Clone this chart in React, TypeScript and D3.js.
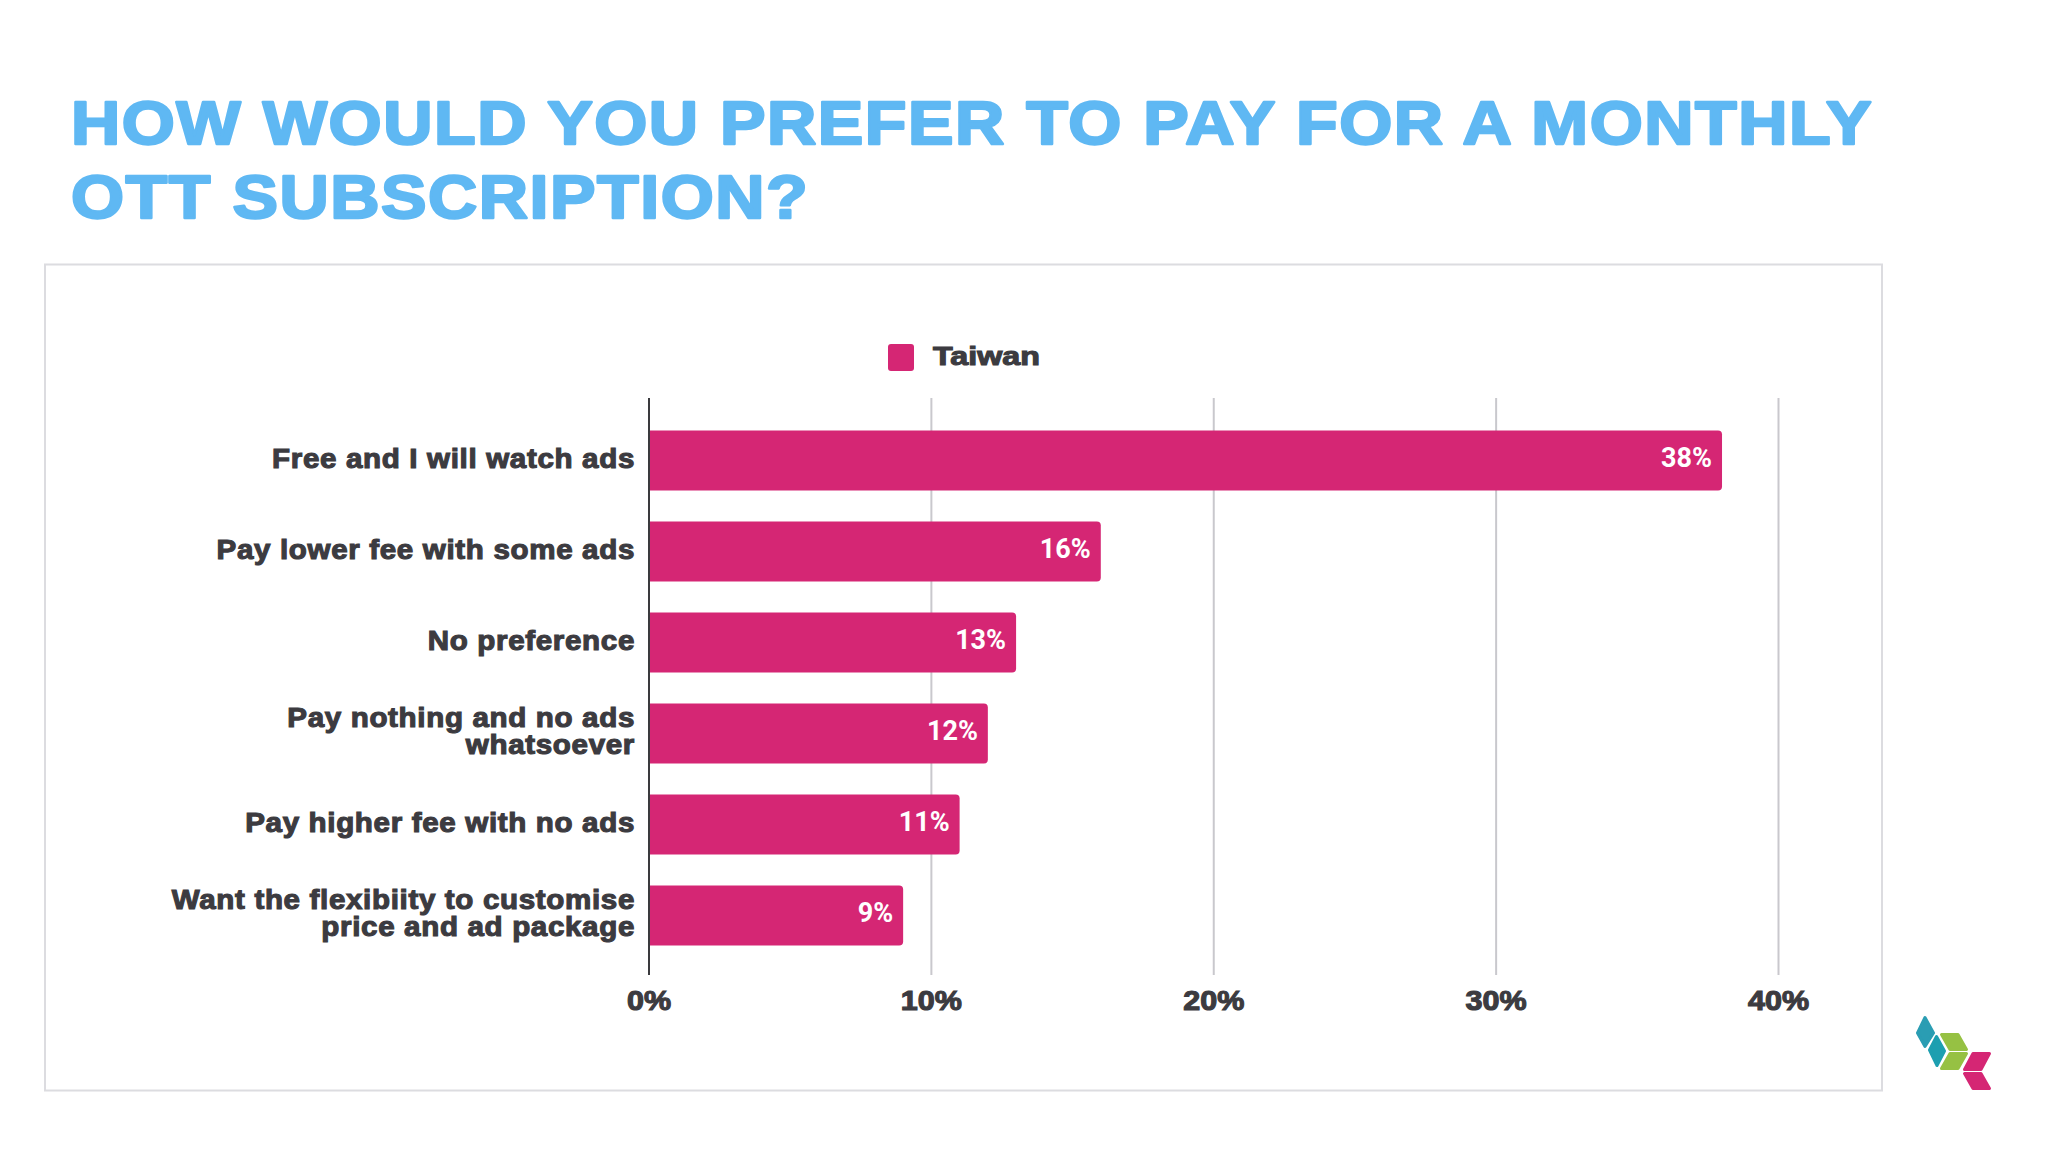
import React from "react";
import * as d3 from "d3";

const categories: string[][] = [
  ["Free and I will watch ads"],
  ["Pay lower fee with some ads"],
  ["No preference"],
  ["Pay nothing and no ads", "whatsoever"],
  ["Pay higher fee with no ads"],
  ["Want the flexibiity to customise", "price and ad package"],
];
const taiwan = [38, 16, 13, 12, 11, 9];
const ticks = [0, 10, 20, 30, 40];
const titleLines = ["HOW WOULD YOU PREFER TO PAY FOR A MONTHLY", "OTT SUBSCRIPTION?"];
const seriesName = "Taiwan";

const FONT = "'Liberation Sans', Arial, sans-serif";
const PINK = "#d52674";
const DARK = "#3c3b40";

const x = d3.scaleLinear().domain([0, 40]).range([649, 1778.5]);
const y = d3.scaleBand<number>().domain(d3.range(6)).range([415, 961]).paddingInner(0.34).paddingOuter(0.17);
const barPath = (v: number, i: number) => {
  const x0 = x(0), x1 = x(v), y0 = y(i)!, h = y.bandwidth(), r = 4;
  const p = d3.path();
  p.moveTo(x0, y0);
  p.lineTo(x1 - r, y0);
  p.arcTo(x1, y0, x1, y0 + r, r);
  p.lineTo(x1, y0 + h - r);
  p.arcTo(x1, y0 + h, x1 - r, y0 + h, r);
  p.lineTo(x0, y0 + h);
  p.closePath();
  return p.toString();
};

export default function App() {
  return (
    <svg width={2048} height={1152} style={{ position: "absolute", left: 0, top: 0, background: "#fff" }}>
      <rect x={45} y={264.5} width={1837} height={826} fill="#fff" stroke="#dcdce0" strokeWidth={2} />
      {titleLines.map((t, i) => (
        <text key={t} transform={`translate(71,${144 + i * 74}) scale(1.1,1)`} fontFamily={FONT} fontWeight={700} fontSize={62} letterSpacing={1.4} fill="#5fb8f3" stroke="#5fb8f3" strokeWidth={2.4} strokeLinejoin="round">{t}</text>
      ))}
      <rect x={888} y={344} width={26} height={27} rx={3} fill={PINK} />
      <text transform="translate(933,365) scale(1.24,1)" fontFamily={FONT} fontWeight={700} fontSize={26} fill={DARK} stroke={DARK} strokeWidth={1.1}>{seriesName}</text>
      {ticks.slice(1).map(t => (
        <line key={t} x1={x(t)} x2={x(t)} y1={398} y2={975} stroke="#c9c8cd" strokeWidth={2} />
      ))}
      {taiwan.map((v, i) => (
        <g key={i}>
          <path d={barPath(v, i)} fill={PINK} />
          <text x={x(v) - 10} y={y(i)! + 37} textAnchor="end" fontFamily="Roboto, sans-serif" fontWeight={700} fontSize={27} fill="#fff">{v}%</text>
          {categories[i].map((l, j) => {
            const n = categories[i].length;
            const base = y(i)! + y.bandwidth() / 2 + 6.5 - (n - 1) * 13.5 + j * 27 + (n === 1 ? 0.5 : 0);
            return (
              <text key={l} transform={`translate(635,${base}) scale(1.095,1)`} textAnchor="end" fontFamily={FONT} fontWeight={700} fontSize={27} fill={DARK} stroke={DARK} strokeWidth={1.1} letterSpacing={0.6}>{l}</text>
            );
          })}
        </g>
      ))}
      <line x1={x(0)} x2={x(0)} y1={398} y2={975} stroke="#3a3a3e" strokeWidth={2} />
      {ticks.map(t => (
        <text key={t} transform={`translate(${x(t)},1010) scale(1.13,1)`} textAnchor="middle" fontFamily={FONT} fontWeight={700} fontSize={27} fill={DARK} stroke={DARK} strokeWidth={1.1}>{t}%</text>
      ))}
      <g strokeWidth={3} strokeLinejoin="round">
        <path d="M1925 1017.5 L1933.5 1033 L1925 1046.5 L1917.5 1033 Z" fill="#2a9db3" stroke="#2a9db3" />
        <path d="M1936.5 1036.5 L1944.5 1051 L1937 1065.5 L1929.5 1050 Z" fill="#1d9fb0" stroke="#1d9fb0" />
        <path d="M1941.5 1034.5 L1958 1034.5 L1966.5 1049.5 L1950 1049.5 Z" fill="#96c143" stroke="#96c143" />
        <path d="M1950 1053.5 L1966.5 1053.5 L1958 1068.5 L1941.5 1068.5 Z" fill="#96c143" stroke="#96c143" />
        <path d="M1973 1053.5 L1989.5 1053.5 L1981 1069.5 L1964.5 1069.5 Z" fill="#d52674" stroke="#d52674" />
        <path d="M1964.5 1073.5 L1981 1073.5 L1989.5 1088.5 L1973 1088.5 Z" fill="#d52674" stroke="#d52674" />
      </g>
    </svg>
  );
}
